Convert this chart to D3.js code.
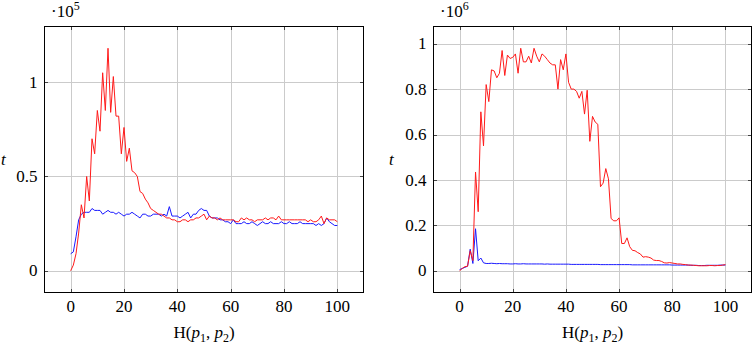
<!DOCTYPE html>
<html>
<head>
<meta charset="utf-8">
<script src="https://cdn.jsdelivr.net/npm/d3@7"></script>
<style>
  body { margin: 0; background: #fff; }
  svg { display: block; }
</style>
</head>
<body>
<script>
// H(p1, p2) runs 0..100 in both panels
const hamming = d3.range(0, 101);
const xTicks = [0, 20, 40, 60, 80, 100];

// left panel, t in units of 1e5
const leftRed = [
  0.00, 0.03, 0.09, 0.20, 0.35, 0.28, 0.50, 0.37, 0.70, 0.62,
  0.85, 0.74, 1.05, 0.85, 1.18, 0.84, 1.03, 0.82, 0.82, 0.62,
  0.76, 0.58, 0.65, 0.53, 0.52, 0.50, 0.42, 0.41, 0.38, 0.36,
  0.33, 0.32, 0.31, 0.30, 0.30, 0.29, 0.28, 0.28, 0.27, 0.27,
  0.26, 0.26, 0.27, 0.27, 0.26, 0.27, 0.27, 0.28, 0.28, 0.29,
  0.30, 0.27, 0.29, 0.28, 0.28, 0.27, 0.28, 0.27, 0.27, 0.27,
  0.27, 0.27, 0.26, 0.26, 0.28, 0.27, 0.28, 0.27, 0.27, 0.26,
  0.27, 0.27, 0.27, 0.28, 0.27, 0.28, 0.28, 0.27, 0.29, 0.27,
  0.27, 0.27, 0.27, 0.27, 0.27, 0.27, 0.27, 0.27, 0.27, 0.26,
  0.27, 0.26, 0.26, 0.27, 0.29, 0.25, 0.28, 0.27, 0.27, 0.27,
  0.26
];
const leftBlue = [
  0.09, 0.10, 0.18, 0.27, 0.30, 0.31, 0.31, 0.31, 0.33, 0.32,
  0.32, 0.32, 0.30, 0.31, 0.32, 0.31, 0.31, 0.30, 0.31, 0.30,
  0.29, 0.30, 0.30, 0.31, 0.30, 0.29, 0.28, 0.30, 0.30, 0.29,
  0.29, 0.30, 0.30, 0.30, 0.29, 0.30, 0.29, 0.34, 0.29, 0.29,
  0.29, 0.28, 0.29, 0.30, 0.31, 0.28, 0.30, 0.30, 0.32, 0.33,
  0.32, 0.32, 0.29, 0.28, 0.28, 0.28, 0.27, 0.27, 0.26, 0.26,
  0.25, 0.27, 0.25, 0.25, 0.25, 0.26, 0.25, 0.25, 0.26, 0.25,
  0.24, 0.25, 0.26, 0.25, 0.25, 0.26, 0.25, 0.25, 0.25, 0.26,
  0.25, 0.25, 0.26, 0.25, 0.25, 0.25, 0.26, 0.25, 0.25, 0.25,
  0.25, 0.25, 0.24, 0.25, 0.24, 0.25, 0.28, 0.26, 0.25, 0.24,
  0.24
];
const leftYTicks = [0, 0.5, 1];

// right panel, t in units of 1e6
const rightRed = [
  0.000, 0.010, 0.018, 0.020, 0.088, 0.045, 0.435, 0.260, 0.700, 0.550,
  0.820, 0.745, 0.885, 0.880, 0.850, 0.870, 0.970, 0.860, 0.950, 0.935,
  0.940, 0.955, 0.870, 0.980, 0.920, 0.920, 0.945, 0.915, 0.980, 0.945,
  0.920, 0.955, 0.945, 0.930, 0.915, 0.907, 0.907, 0.800, 0.930, 0.885,
  0.955, 0.830, 0.800, 0.800, 0.790, 0.760, 0.790, 0.690, 0.795, 0.570,
  0.680, 0.655, 0.645, 0.370, 0.386, 0.450, 0.405, 0.230, 0.220, 0.220,
  0.233, 0.120, 0.120, 0.145, 0.106, 0.090, 0.088, 0.080, 0.074, 0.060,
  0.062, 0.060, 0.056, 0.047, 0.045, 0.045, 0.041, 0.035, 0.034, 0.036,
  0.034, 0.032, 0.030, 0.030, 0.028, 0.027, 0.025, 0.025, 0.024, 0.023,
  0.022, 0.022, 0.022, 0.022, 0.023, 0.023, 0.022, 0.023, 0.023, 0.025,
  0.027
];
const rightBlue = [
  0.005, 0.010, 0.015, 0.020, 0.095, 0.032, 0.185, 0.044, 0.056, 0.035,
  0.032, 0.032, 0.033, 0.032, 0.031, 0.032, 0.031, 0.031, 0.031, 0.030,
  0.030, 0.031, 0.030, 0.030, 0.031, 0.030, 0.030, 0.030, 0.030, 0.030,
  0.030, 0.030, 0.029, 0.030, 0.029, 0.029, 0.029, 0.029, 0.029, 0.029,
  0.029, 0.029, 0.028, 0.028, 0.028, 0.028, 0.028, 0.028, 0.028, 0.028,
  0.028, 0.028, 0.028, 0.027, 0.027, 0.027, 0.027, 0.027, 0.027, 0.027,
  0.027, 0.027, 0.027, 0.027, 0.027, 0.026, 0.026, 0.026, 0.026, 0.026,
  0.026, 0.026, 0.026, 0.026, 0.026, 0.026, 0.026, 0.026, 0.026, 0.026,
  0.025, 0.025, 0.025, 0.025, 0.025, 0.025, 0.025, 0.024, 0.024, 0.024,
  0.023, 0.023, 0.023, 0.024, 0.024, 0.024, 0.024, 0.024, 0.025, 0.025,
  0.025
];
const rightYTicks = [0, 0.2, 0.4, 0.6, 0.8, 1];

const W = 755, H = 362;
const svg = d3.select("body").append("svg")
  .attr("width", W)
  .attr("height", H)
  .attr("font-family", "'Liberation Serif', 'DejaVu Serif', 'Times New Roman', serif")
  .style("font-family", "'Liberation Serif', 'DejaVu Serif', 'Times New Roman', serif");

function panel(cfg) {
  const { left, right, top, bottom, red, blue, yTicks, exp } = cfg;
  const g = svg.append("g");

  // pgfplots style: 10% enlargement on both axes
  const x = d3.scaleLinear().domain([-10, 110]).range([left, right]);
  const [lo, hi] = d3.extent(red.concat(blue));
  const pad = (hi - lo) * 0.1;
  const y = d3.scaleLinear().domain([lo - pad, hi + pad]).range([bottom, top]);

  // grid
  g.append("g")
    .attr("stroke", "#cbcbcb")
    .selectAll("line")
    .data(xTicks)
    .join("line")
    .attr("x1", d => Math.round(x(d)) + 0.5)
    .attr("x2", d => Math.round(x(d)) + 0.5)
    .attr("y1", top)
    .attr("y2", bottom);
  g.append("g")
    .attr("stroke", "#cbcbcb")
    .selectAll("line")
    .data(yTicks)
    .join("line")
    .attr("y1", d => Math.round(y(d)) + 0.5)
    .attr("y2", d => Math.round(y(d)) + 0.5)
    .attr("x1", left)
    .attr("x2", right);

  // inward tick marks on all four sides
  const tickLen = 4;
  const tk = g.append("g").attr("stroke", "#444");
  xTicks.forEach(d => {
    const px = Math.round(x(d)) + 0.5;
    tk.append("line").attr("x1", px).attr("x2", px).attr("y1", bottom).attr("y2", bottom - tickLen);
    tk.append("line").attr("x1", px).attr("x2", px).attr("y1", top).attr("y2", top + tickLen);
  });
  yTicks.forEach(d => {
    const py = Math.round(y(d)) + 0.5;
    tk.append("line").attr("y1", py).attr("y2", py).attr("x1", left).attr("x2", left + tickLen);
    tk.append("line").attr("y1", py).attr("y2", py).attr("x1", right).attr("x2", right - tickLen);
  });

  // series
  const line = d3.line()
    .x((d, i) => x(hamming[i]))
    .y(d => y(d));
  g.append("path")
    .datum(blue)
    .attr("fill", "none")
    .attr("stroke", "#1a1aff")
    .attr("stroke-width", 1)
    .attr("stroke-linejoin", "round")
    .attr("d", line);
  g.append("path")
    .datum(red)
    .attr("fill", "none")
    .attr("stroke", "#ff1a1a")
    .attr("stroke-width", 1)
    .attr("stroke-linejoin", "round")
    .attr("d", line);

  // frame
  g.append("rect")
    .attr("x", left + 0.5)
    .attr("y", top + 0.5)
    .attr("width", right - left - 1)
    .attr("height", bottom - top - 1)
    .attr("fill", "none")
    .attr("stroke", "#000")
    .attr("stroke-width", 1);

  // tick labels
  g.append("g").selectAll("text")
    .data(xTicks)
    .join("text")
    .attr("x", d => x(d))
    .attr("y", 312)
    .attr("text-anchor", "middle")
    .attr("font-size", 17)
    .text(d => d);
  g.append("g").selectAll("text")
    .data(yTicks)
    .join("text")
    .attr("x", left - 6.5)
    .attr("y", d => y(d))
    .attr("dy", "0.33em")
    .attr("text-anchor", "end")
    .attr("font-size", 17)
    .text(d => d3.format("~g")(d));

  // exponent marker
  const e = g.append("text")
    .attr("x", left + 7)
    .attr("y", 17)
    .attr("font-size", 17);
  e.append("tspan").text("·10");
  e.append("tspan").attr("font-size", 12).attr("dy", -7).text(exp);

  // y label
  g.append("text")
    .attr("x", cfg.tx)
    .attr("y", 165)
    .attr("font-size", 17)
    .attr("font-style", "italic")
    .text("t");

  // x label H(p1, p2)
  const xl = g.append("text")
    .attr("x", (left + right) / 2)
    .attr("y", 338)
    .attr("text-anchor", "middle")
    .attr("font-size", 17);
  xl.append("tspan").text("H(");
  xl.append("tspan").attr("font-style", "italic").text("p");
  xl.append("tspan").attr("font-size", 12).attr("dy", 4).text("1");
  xl.append("tspan").attr("dy", -4).text(", ");
  xl.append("tspan").attr("font-style", "italic").text("p");
  xl.append("tspan").attr("font-size", 12).attr("dy", 4).text("2");
  xl.append("tspan").attr("dy", -4).text(")");
}

panel({ left: 44, right: 364, top: 26, bottom: 293, red: leftRed, blue: leftBlue,
        yTicks: leftYTicks, exp: "5", tx: 1 });
panel({ left: 433, right: 752, top: 26, bottom: 293, red: rightRed, blue: rightBlue,
        yTicks: rightYTicks, exp: "6", tx: 389 });
</script>
</body>
</html>
